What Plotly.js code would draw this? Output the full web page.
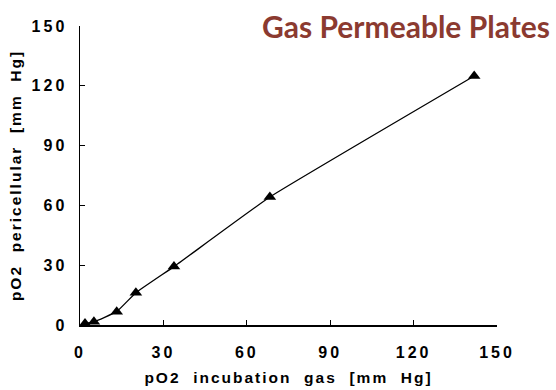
<!DOCTYPE html>
<html><head><meta charset="utf-8">
<script src="https://cdn.plot.ly/plotly-3.0.1.min.js"></script>
<style>
html,body{margin:0;padding:0;background:#fff;}
#chart .xtick text,#chart .ytick text{letter-spacing:3px;}
#chart .g-xtitle text,#chart .g-ytitle text{letter-spacing:2px;}
</style>
</head><body>
<div id="chart" style="width:556px;height:390px;"></div>
<script>
const incubationGas = [1.8, 5.0, 13.2, 20.1, 33.8, 68.3, 141.8];
const pericellular  = [0.8, 1.6, 6.7, 16.2, 29.3, 64.2, 124.9];
const tickVals = [0, 30, 60, 90, 120, 150];
const tickText = ['0', '30', '60', '90', '120', '150'];
const chartTitle = 'Gas Permeable Plates';
const xTitle = 'pO2  incubation  gas  [mm  Hg]';
const yTitle = 'pO2  pericellular  [mm  Hg]';

const trace = {
  x: incubationGas, y: pericellular,
  type: 'scatter', mode: 'lines+markers',
  line: {color: '#000', width: 1.3, shape: 'spline', smoothing: 0.3},
  marker: {symbol: 'triangle-up', size: 11, color: '#000'},
  hoverinfo: 'none'
};

const axisCommon = {
  range: [0, 150], tickmode: 'array', tickvals: tickVals, ticktext: tickText,
  ticks: 'inside', ticklen: 5, tickwidth: 1.2, tickcolor: '#000',
  showline: true, linecolor: '#000', linewidth: 1.5,
  showgrid: false, zeroline: false,
  tickfont: {family: 'Liberation Sans, Arial, sans-serif', size: 16, color: '#000', weight: 'bold'}
};

const layout = {
  width: 556, height: 390,
  margin: {l: 80, r: 59, t: 26, b: 65},
  paper_bgcolor: '#fff', plot_bgcolor: '#fff',
  showlegend: false,
  xaxis: Object.assign({}, axisCommon, {
    ticklabelstandoff: 12,
    title: {text: xTitle, standoff: 12, font: {family: 'Liberation Sans, Arial, sans-serif', size: 15.5, color: '#000', weight: 'bold'}}
  }),
  yaxis: Object.assign({}, axisCommon, {
    ticklabelstandoff: 8,
    title: {text: yTitle, standoff: 15, font: {family: 'Liberation Sans, Arial, sans-serif', size: 15.5, color: '#000', weight: 'bold'}}
  }),
  annotations: [{
    text: chartTitle, xref: 'paper', yref: 'paper', x: 1.132, y: 1.0,
    xanchor: 'right', yanchor: 'middle', showarrow: false,
    font: {family: 'Lato, Open Sans, sans-serif', size: 30, color: '#8B3A30', weight: 'bold'}
  }]
};

Plotly.newPlot('chart', [trace], layout, {staticPlot: true, displayModeBar: false});
</script>
</body></html>
